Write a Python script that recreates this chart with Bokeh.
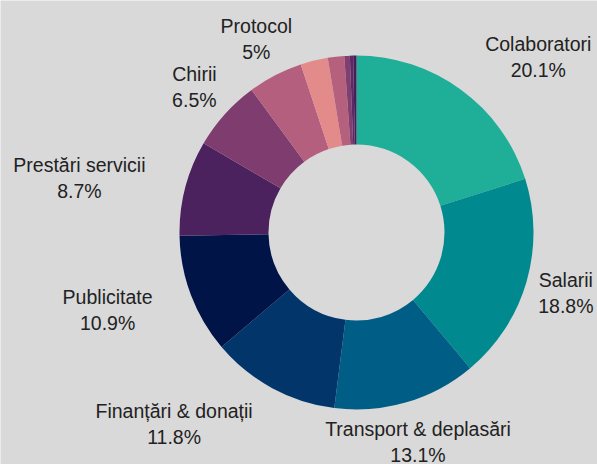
import math
from bokeh.plotting import figure
from bokeh.models import ColumnDataSource, Range1d
from bokeh.embed import file_html
from bokeh.resources import INLINE
from bokeh.core.properties import value

# ---- data ----
categories = ["Colaboratori", "Salarii", "Transport & deplasări", "Finanțări & donații",
              "Publicitate", "Prestări servicii", "Chirii", "Protocol",
              "Altele 1", "Altele 2", "Altele 3", "Altele 4", "Altele 5"]
shares = [20.1, 18.8, 13.1, 11.8, 10.9, 8.7, 6.5, 5.0, 2.5, 1.5, 0.5, 0.3, 0.3]
colors = ["#1fae98", "#00898f", "#005e86", "#02366b", "#011447", "#4b225d", "#7f3d6f",
          "#b35f7d", "#e38a8a", "#b5617e", "#803f70", "#5c2a63", "#461f5a"]
labeled = 8
# which side of the anchor point the label block sits on (+1 right, -1 left, 0 centred)
label_side = [1, 0, 0, -1, -1, -1, 0, 0]

# ---- geometry (reference pixel units) ----
W, H = 597, 464
cx, cy = 356, H - 232
r_out, r_in = 177, 88
r_lab = 218
FONT_PX = 19.5
BG = "#d9d9d9"

# approximate Liberation Sans advance widths (per em) for block-width estimation
_adv = {" ": .278, "%": .889, "&": .667, ".": .278, "C": .722, "P": .667, "S": .667,
        "T": .611, "F": .611, "i": .222, "l": .222, "r": .333, "t": .278, "ț": .278,
        "c": .5, "s": .5, "v": .5}


def text_width(s):
    return sum(_adv.get(ch, .556) for ch in s) * FONT_PX


total = sum(shares)
starts, ends, mids = [], [], []
c = 0.0
for v in shares:
    c0 = c / total
    c += v
    c1 = c / total
    starts.append(math.pi / 2 - 2 * math.pi * c1)
    ends.append(math.pi / 2 - 2 * math.pi * c0)
    mids.append(2 * math.pi * (c0 + c1) / 2)

src = ColumnDataSource(dict(cat=categories, start=starts, end=ends, color=colors))

p = figure(width=W, height=H, x_range=Range1d(0, W), y_range=Range1d(0, H),
           output_backend="svg", toolbar_location=None, min_border=0,
           background_fill_color=BG, border_fill_color=BG, outline_line_color=None)
p.axis.visible = False
p.grid.visible = False

p.annular_wedge(x=cx, y=cy, inner_radius=r_in, outer_radius=r_out,
                start_angle="start", end_angle="end", color="color",
                line_color=None, source=src)

xs, ys, names, vals = [], [], [], []
for i in range(labeled):
    th = mids[i]
    name = categories[i]
    val = f"{shares[i]:g}%"
    block_w = max(text_width(name), text_width(val))
    xs.append(cx + r_lab * math.sin(th) + label_side[i] * block_w / 2)
    ys.append(cy + r_lab * math.cos(th))
    names.append(name)
    vals.append(val)

ls = ColumnDataSource(dict(x=xs, y=ys, n=names, v=vals))
common = dict(text_align="center", text_baseline="middle",
              text_font=value("Liberation Sans"), text_font_size=f"{FONT_PX}px",
              text_color="#222222", source=ls)
p.text(x="x", y="y", text="n", y_offset=-13, **common)
p.text(x="x", y="y", text="v", y_offset=13, **common)

open("out.html", "w").write(file_html(p, INLINE))
